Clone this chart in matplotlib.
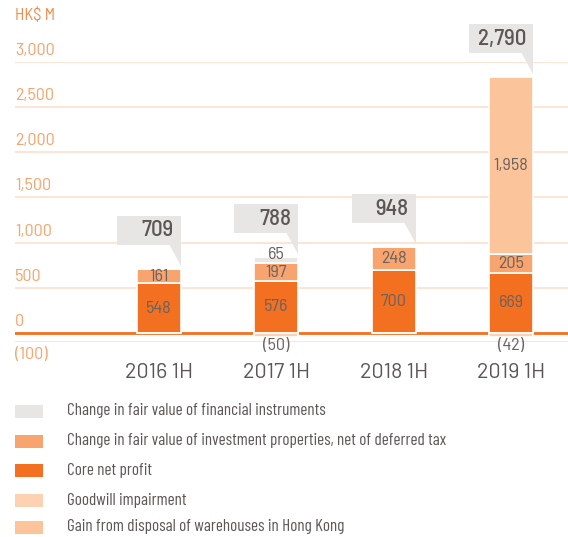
import numpy as np
import matplotlib
matplotlib.use("Agg")
from matplotlib import pyplot as plt
from matplotlib.patches import Rectangle, Polygon

# data (HK$ M)
periods = ["2016 1H", "2017 1H", "2018 1H", "2019 1H"]
core_net_profit = [548, 576, 700, 669]
inv_properties = [161, 197, 248, 205]
fin_instruments = [0, 65, 0, 0]
gain_disposal = [0, 0, 0, 1958]
goodwill = [0, -50, 0, -42]
totals = [709, 788, 948, 2790]
y_ticks = [-100, 0, 500, 1000, 1500, 2000, 2500, 3000]
y_tick_labels = ["(100)", "0", "500", "1,000", "1,500", "2,000", "2,500", "3,000"]

legend_items = [
    ("Change in fair value of financial instruments", "#e8e6e4"),
    ("Change in fair value of investment properties, net of deferred tax", "#f7a46f"),
    ("Core net profit", "#f37021"),
    ("Goodwill impairment", "#fdd1b1"),
    ("Gain from disposal of warehouses in Hong Kong", "#fbc49b"),
]
c_fin, c_inv, c_core, c_good, c_gain = [c for _, c in legend_items]

FONT = "Barlow Condensed"
NUMFONT = "Barlow Semi Condensed"
TXT = "#5c5654"
SEG = "#6b625f"
AXIS_ORANGE = "#f5a56f"

W, H = 568, 537
fig = plt.figure(figsize=(W / 100, H / 100), dpi=100)
ax = fig.add_axes([15 / W, 1 - 342 / H, 553 / W, 280 / H])
xlim = (-1.227, 3.486)
ylim = (-100, 3000)
ax.set_xlim(*xlim)
ax.set_ylim(*ylim)
ax.axis("off")

# pixels per data unit
xs = 553 / (xlim[1] - xlim[0])
ys = 280 / (ylim[1] - ylim[0])

for t in y_ticks:
    ax.axhline(t, color="#fde4d4", lw=1.4, zorder=1)
ax.axhline(0, color="#f37021", lw=2.0, zorder=2)

for t, lab in zip(y_ticks, y_tick_labels):
    if t < 0:
        ax.text(xlim[0], t - 5 / ys, lab, ha="left", va="top", fontsize=13,
                color=AXIS_ORANGE, family=NUMFONT)
    else:
        ax.text(xlim[0], t + 4 / ys, lab, ha="left", va="bottom", fontsize=13,
                color=AXIS_ORANGE, family=NUMFONT)
fig.text(15 / W, 1 - 15 / H, "HK$ M", ha="left", va="center", fontsize=12,
         color="#f08a4b", family=NUMFONT)

x = np.arange(len(periods))
bw = 0.375
core = np.array(core_net_profit)
inv = np.array(inv_properties)
fin = np.array(fin_instruments)
gain = np.array(gain_disposal)
good = np.array(goodwill)

kw = dict(width=bw, edgecolor="white", linewidth=1.2, zorder=3)
ax.bar(x, core, color=c_core, **kw)
ax.bar(x, inv, bottom=core, color=c_inv, **kw)
ax.bar(x, fin, bottom=core + inv, color=c_fin, **kw)
ax.bar(x, gain, bottom=core + inv + fin, color=c_gain, **kw)
ax.bar(x, good, color=c_good, **kw)

def fmt(v):
    return "({:,})".format(-v) if v < 0 else "{:,}".format(v)

seg_kw = dict(ha="center", fontsize=13, color=SEG, family=NUMFONT, zorder=5)
for i in range(len(x)):
    ax.text(x[i], core[i] / 2, fmt(core[i]), va="center", **seg_kw)
    ax.text(x[i], core[i] + inv[i] / 2, fmt(inv[i]), va="center", **seg_kw)
    if fin[i]:
        # small segment: label sits just above its top edge
        ax.text(x[i], core[i] + inv[i] + fin[i] + 3 / ys, fmt(fin[i]), va="center", **seg_kw)
    if gain[i]:
        ax.text(x[i], core[i] + inv[i] + fin[i] + gain[i] / 2, fmt(gain[i]),
                va="center", **seg_kw)
    if good[i]:
        ax.text(x[i], good[i] - 1 / ys, fmt(good[i]), va="top", **seg_kw)

    # callout box with total
    top = core[i] + inv[i] + fin[i] + gain[i]
    right = x[i] + bw / 2
    ybot = top + 24 / ys
    bh = 29 / ys
    bwid = 64 / xs
    ax.add_patch(Rectangle((right - bwid, ybot), bwid, bh, facecolor="#e8e6e5",
                           edgecolor="none", zorder=4, clip_on=False))
    ax.add_patch(Polygon([(right - 12 / xs, ybot + 1 / ys), (right, ybot + 1 / ys),
                          (right, top + 3 / ys)], closed=True, facecolor="#e8e6e5",
                         edgecolor="none", zorder=4, clip_on=False))
    ax.text(right - 7 / xs, ybot + bh / 2, fmt(totals[i]), ha="right", va="center",
            fontsize=16.5, color=TXT, family=NUMFONT, weight="medium", zorder=5,
            clip_on=False)

    ax.text(x[i], -100 - 31 / ys, periods[i], ha="center", va="center",
            fontsize=15.5, color=TXT, family="Barlow", clip_on=False)

# legend
row_y = [411, 441, 470, 500, 527]
for (lab, col), yy in zip(legend_items, row_y):
    fig.patches.append(Rectangle((15 / W, 1 - (yy + 6.5) / H), 28 / W, 13 / H,
                                 facecolor=col, edgecolor="none",
                                 transform=fig.transFigure, figure=fig))
    fig.text(67 / W, 1 - yy / H, lab, ha="left", va="center", fontsize=12.3,
             color=TXT, family=FONT)

fig.savefig("out.png", dpi=100)
